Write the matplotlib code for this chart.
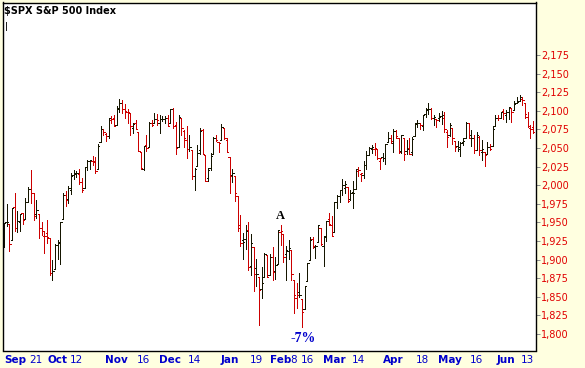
import matplotlib
matplotlib.use("Agg")
import matplotlib.pyplot as plt
import numpy as np
import pandas as pd

# trading days on the chart: Sep 2 2015 .. Jun 15 2016
holidays = ["2015-09-07", "2015-11-26", "2015-12-25", "2016-01-01",
            "2016-01-18", "2016-02-15", "2016-03-25", "2016-05-30"]
days = pd.bdate_range("2015-09-02", "2016-06-15")
days = days[~days.isin(pd.to_datetime(holidays))]

prev_close = 1914  # Sep 1 close, only used for the colour of the first bar

opens = [
    # Sep
    1917, 1951, 1948, 1927, 1971, 1942, 1951, 1963, 1955, 1978, 1995, 1990, 1961, 1961, 1943, 1932, 1936, 1929, 1882, 1887,
    # Oct
    1920, 1922, 1954, 1987, 1982, 1994, 2014, 2016, 2015, 2004, 1996, 2024, 2032, 2033, 2033, 2022, 2058, 2075, 2069, 2066, 2088, 2090,
    # Nov
    2081, 2103, 2111, 2102, 2099, 2097, 2077, 2083, 2072, 2045, 2022, 2054, 2052, 2084, 2083, 2089, 2084, 2089, 2089, 2091,
    # Dec
    2083, 2102, 2081, 2051, 2090, 2073, 2061, 2048, 2047, 2013, 2026, 2047, 2074, 2041, 2010, 2023, 2042, 2064, 2058, 2061, 2077, 2061,
    # Jan
    2038, 2014, 2012, 1985, 1946, 1926, 1928, 1940, 1892, 1917, 1889, 1876, 1861, 1877, 1906, 1879, 1903, 1885, 1894,
    # Feb
    1937, 1935, 1907, 1912, 1913, 1873, 1848, 1857, 1847, 1833, 1871, 1899, 1928, 1917, 1924, 1942, 1918, 1932, 1955, 1947,
    # Mar
    1937, 1977, 1986, 1994, 1996, 1997, 1981, 1991, 1995, 2019, 2015, 2014, 2027, 2041, 2049, 2049, 2049, 2032, 2038, 2036, 2058, 2064,
    # Apr
    2057, 2073, 2063, 2046, 2063, 2046, 2050, 2044, 2066, 2083, 2083, 2079, 2096, 2102, 2102, 2091, 2089, 2090, 2093, 2091, 2072,
    # May
    2067, 2077, 2060, 2053, 2048, 2058, 2063, 2083, 2067, 2063, 2047, 2065, 2044, 2044, 2042, 2052, 2053, 2079, 2091, 2090, 2100,
    # Jun
    2094, 2098, 2104, 2101, 2110, 2113, 2116, 2110, 2092, 2077, 2078,
]
highs = [
    1949, 1975, 1948, 1970, 1989, 1965, 1961, 1963, 1983, 1997, 2021, 1990, 1980, 1961, 1950, 1939, 1953, 1929, 1899, 1921,
    1927, 1951, 1989, 1992, 1999, 2017, 2020, 2019, 2022, 2010, 2024, 2034, 2034, 2039, 2038, 2055, 2080, 2075, 2070, 2090, 2093, 2094,
    2106, 2116, 2115, 2109, 2102, 2097, 2084, 2087, 2072, 2045, 2053, 2067, 2085, 2087, 2097, 2096, 2094, 2093, 2093, 2094,
    2103, 2104, 2085, 2094, 2090, 2074, 2080, 2068, 2047, 2023, 2054, 2077, 2076, 2041, 2023, 2043, 2065, 2067, 2058, 2082, 2077, 2063,
    2038, 2022, 2012, 1985, 1960, 1936, 1947, 1950, 1934, 1917, 1901, 1876, 1890, 1909, 1906, 1907, 1917, 1903, 1940,
    1947, 1935, 1918, 1927, 1913, 1873, 1868, 1882, 1847, 1865, 1896, 1931, 1930, 1919, 1947, 1942, 1932, 1952, 1963, 1958,
    1978, 1987, 1994, 2009, 2006, 1997, 1993, 2005, 2022, 2025, 2016, 2032, 2046, 2052, 2054, 2057, 2049, 2036, 2043, 2056, 2072, 2068,
    2075, 2074, 2063, 2067, 2063, 2061, 2063, 2065, 2083, 2088, 2083, 2095, 2104, 2111, 2104, 2094, 2089, 2097, 2100, 2099, 2074,
    2083, 2077, 2060, 2060, 2058, 2064, 2085, 2083, 2074, 2067, 2072, 2066, 2061, 2044, 2058, 2056, 2080, 2095, 2094, 2099, 2103,
    2101, 2105, 2104, 2113, 2119, 2121, 2118, 2110, 2098, 2081, 2086,
]
lows = [
    1917, 1945, 1911, 1927, 1938, 1937, 1939, 1948, 1954, 1978, 1976, 1953, 1956, 1929, 1933, 1909, 1922, 1879, 1872, 1887,
    1901, 1894, 1954, 1972, 1976, 1988, 2008, 2011, 2002, 1991, 1996, 2020, 2022, 2027, 2017, 2022, 2058, 2067, 2059, 2063, 2083, 2079,
    2081, 2098, 2097, 2090, 2084, 2068, 2070, 2075, 2046, 2022, 2020, 2046, 2052, 2079, 2083, 2081, 2070, 2086, 2084, 2080,
    2083, 2077, 2042, 2051, 2067, 2052, 2037, 2046, 2009, 1993, 2026, 2042, 2042, 2005, 2006, 2020, 2042, 2059, 2044, 2061, 2062, 2044,
    1990, 2004, 1979, 1939, 1918, 1901, 1914, 1886, 1879, 1858, 1865, 1812, 1849, 1877, 1876, 1879, 1873, 1874, 1894,
    1920, 1897, 1872, 1901, 1873, 1828, 1835, 1850, 1810, 1833, 1871, 1899, 1915, 1902, 1924, 1919, 1891, 1925, 1946, 1932,
    1937, 1969, 1977, 1987, 1989, 1977, 1980, 1969, 1995, 2012, 2005, 2010, 2022, 2041, 2043, 2041, 2035, 2022, 2032, 2028, 2058, 2057,
    2044, 2063, 2043, 2043, 2034, 2042, 2042, 2040, 2066, 2078, 2076, 2074, 2092, 2096, 2089, 2081, 2078, 2086, 2082, 2072, 2052,
    2066, 2055, 2046, 2046, 2039, 2054, 2063, 2064, 2053, 2043, 2047, 2041, 2034, 2026, 2042, 2047, 2053, 2079, 2087, 2090, 2089,
    2085, 2089, 2085, 2101, 2110, 2113, 2108, 2090, 2078, 2064, 2070,
]
closes = [
    1949, 1951, 1921, 1969, 1942, 1952, 1961, 1953, 1978, 1995, 1990, 1958, 1967, 1943, 1939, 1932, 1931, 1882, 1884, 1920,
    1924, 1951, 1987, 1980, 1996, 2013, 2015, 2017, 2004, 1994, 2024, 2033, 2034, 2031, 2019, 2053, 2075, 2071, 2066, 2090, 2089, 2079,
    2104, 2110, 2102, 2100, 2099, 2079, 2082, 2075, 2046, 2023, 2053, 2050, 2084, 2081, 2089, 2087, 2089, 2089, 2090, 2080,
    2103, 2080, 2050, 2092, 2077, 2064, 2048, 2052, 2012, 2022, 2043, 2073, 2042, 2006, 2021, 2039, 2064, 2061, 2057, 2078, 2063, 2044,
    2013, 2017, 1990, 1943, 1922, 1924, 1939, 1890, 1922, 1880, 1881, 1859, 1869, 1907, 1877, 1904, 1883, 1893, 1940,
    1939, 1903, 1913, 1915, 1880, 1853, 1852, 1852, 1829, 1865, 1896, 1927, 1918, 1918, 1946, 1921, 1930, 1952, 1948, 1932,
    1978, 1986, 1993, 2000, 2002, 1979, 1989, 1990, 2022, 2020, 2016, 2027, 2041, 2050, 2052, 2050, 2037, 2036, 2037, 2055, 2064, 2060,
    2073, 2066, 2045, 2067, 2042, 2048, 2042, 2062, 2082, 2083, 2081, 2094, 2101, 2102, 2091, 2092, 2088, 2092, 2095, 2076, 2065,
    2081, 2063, 2051, 2051, 2057, 2059, 2084, 2064, 2064, 2047, 2067, 2047, 2048, 2040, 2052, 2048, 2076, 2091, 2090, 2099, 2097,
    2099, 2105, 2099, 2109, 2112, 2119, 2115, 2096, 2079, 2075, 2072,
]

day_marks = ["2015-09-21", "2015-10-12", "2015-11-16", "2015-12-14", "2016-01-19",
             "2016-02-08", "2016-02-16", "2016-03-14", "2016-04-18", "2016-05-16", "2016-06-13"]
y_ticks = list(range(1800, 2176, 25))

BG = "#FFFFE0"
RED = "#CC0000"
DARK = "#151500"
LBL_RED = "#E00000"
LBL_BLUE = "#0000CC"
px = 0.72  # one pixel in points at dpi 100

fig = plt.figure(figsize=(5.85, 3.68), dpi=100, facecolor=BG)
ax = fig.add_axes([2.5 / 585, 1 - 350.5 / 368, 533 / 585, 348 / 368])
ax.set_facecolor("white")

x = np.arange(len(closes))
prev = np.concatenate([[prev_close], closes[:-1]])
cols = [RED if c < p else DARK for c, p in zip(closes, prev)]

ax.vlines(x, lows, highs, colors=cols, lw=px, antialiased=False)
ax.hlines(opens, x - 0.5, x, colors=cols, lw=px, antialiased=False)
ax.hlines(closes, x, x + 0.5, colors=cols, lw=px, antialiased=False)

ax.set_xlim(-0.56, len(closes) - 1 + 0.95)
ax.set_ylim(1777.8, 2245.6)

for s in ax.spines.values():
    s.set_color("black")
    s.set_linewidth(1.0)

# price axis on the right
ax.yaxis.tick_right()
ax.set_yticks(y_ticks)
ax.set_yticklabels([f"{v:,}" for v in y_ticks])
ax.tick_params(axis="y", length=3, width=px, color="#909090", pad=1,
               labelsize=7, labelcolor=LBL_RED)

# date axis: month names bold at the first day of each month, day numbers plain
month_pos = [0] + [i for i in range(1, len(days)) if days[i].month != days[i - 1].month]
day_pos = [days.get_loc(pd.Timestamp(d)) for d in day_marks]
ticks = month_pos + day_pos
labels = [days[i].strftime("%b") for i in month_pos] + [str(days[i].day) for i in day_pos]
ax.set_xticks(ticks)
ax.set_xticklabels(labels)
ax.tick_params(axis="x", length=0, pad=3, labelsize=7.5, labelcolor=LBL_BLUE)
xt = ax.get_xticklabels()
for k, t in enumerate(xt):
    if k < len(month_pos):
        t.set_fontweight("bold")
xt[0].set_horizontalalignment("left")

ax.text(0.003, 0.975, "$SPX S&P 500 Index", transform=ax.transAxes,
        fontsize=7, fontweight="bold", ha="left", va="center")
ax.text(0.005, 0.932, "|", transform=ax.transAxes, fontsize=6,
        fontweight="bold", ha="left", va="center")

# swing labels
i_a = days.get_loc(pd.Timestamp("2016-02-01"))
i_low = days.get_loc(pd.Timestamp("2016-02-11"))
ax.annotate("A", (i_a, highs[i_a]), xytext=(0, 2), textcoords="offset points",
            ha="center", va="bottom", fontsize=9, fontweight="bold",
            family="Liberation Serif")
ax.annotate("-7%", (i_low, lows[i_low]), xytext=(1, -4), textcoords="offset points",
            ha="center", va="top", fontsize=10, fontweight="bold",
            family="Liberation Serif", color=LBL_BLUE)

fig.savefig("out.png", dpi=100, facecolor=BG)
